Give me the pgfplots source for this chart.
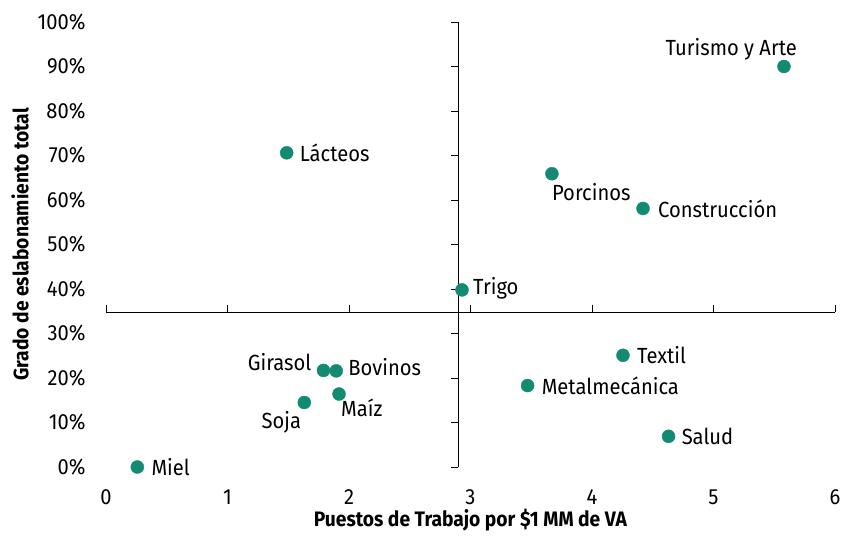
\documentclass[border=0pt]{standalone}
\usepackage{fontspec}
\setmainfont{Fira Sans}[FakeStretch=0.92]
\usepackage{pgfplots}
\usepackage{pgfplotstable}
\pgfplotsset{compat=1.18}
\definecolor{teal1}{HTML}{138A72}
\pgfplotstableread[col sep=comma]{
x,y,label,dx,dy
1.487,0.706,Lácteos,13,0
3.67,0.659,Porcinos,0,-18
4.42,0.581,Construcción,15,0
2.93,0.398,Trigo,11,2
4.255,0.251,Textil,14,0
3.47,0.183,Metalmecánica,14,0
4.63,0.069,Salud,13,0
1.895,0.216,Bovinos,12,4
1.918,0.164,Maíz,2,-14
0.258,0.000,Miel,14,0
}\westtable
\pgfplotstableread[col sep=comma]{
x,y,label,dx,dy
5.58,0.900,Turismo y Arte,13,17
1.79,0.217,Girasol,-12,8
1.632,0.145,Soja,-3,-20
}\easttable
\begin{document}
\fontsize{22}{26}\selectfont
\begin{tikzpicture}
\begin{axis}[
  scale only axis, width=729bp, height=445bp,
  xmin=0, xmax=6, ymin=0, ymax=1,
  clip=false,
  axis line style={draw=none},
  major tick length=0,
  xtick={0,1,2,3,4,5,6},
  ytick={0,0.1,0.2,0.3,0.4,0.5,0.6,0.7,0.8,0.9,1},
  yticklabels={0\%,10\%,20\%,30\%,40\%,50\%,60\%,70\%,80\%,90\%,100\%},
  /pgf/number format/assume math mode=true,
  ticklabel style={font=\fontsize{22}{26}\selectfont},
  xticklabel style={yshift=-15bp},
  yticklabel style={xshift=-13bp},
  xlabel={\textbf{Puestos de Trabajo por \$1 MM de VA}},
  ylabel={\textbf{Grado de eslabonamiento total}},
  label style={font=\fontsize{21}{25}\selectfont},
  xlabel style={at={(axis description cs:0.5,0)}, anchor=center, yshift=-53bp},
  ylabel style={at={(axis description cs:0,0.5)}, anchor=center, yshift=86bp},
  mylab/.style={only marks, mark=*, mark size=6.5bp, mark options={fill=teal1, draw=teal1},
    point meta=explicit symbolic,
    visualization depends on={\thisrow{dx}\as\mydx},
    visualization depends on={\thisrow{dy}\as\mydy},
    nodes near coords,
    every node near coord/.append style={anchor=#1, xshift=\mydx bp, yshift=\mydy bp, inner sep=0pt, font=\fontsize{22}{26}\selectfont, text=black}},
]
\draw[black, line width=0.9bp] (axis cs:0,0.348) -- (axis cs:6,0.348);
\draw[black, line width=0.9bp] (axis cs:2.9,0) -- (axis cs:2.9,1);
\pgfplotsinvokeforeach{0,1,2,3,4,5,6}{
  \draw[black, line width=0.9bp] (axis cs:#1,0.348) -- ++(0,7bp);
}
\pgfplotsinvokeforeach{0,0.1,0.2,0.3,0.4,0.5,0.6,0.7,0.8,0.9,1}{
  \draw[black, line width=0.9bp] (axis cs:2.9,#1) -- ++(-7bp,0);
}
\addplot[mylab=west] table[x=x, y=y, meta=label] {\westtable};
\addplot[mylab=east] table[x=x, y=y, meta=label] {\easttable};
\end{axis}
\pgfresetboundingbox
\path ([xshift=-106bp,yshift=-81bp]current axis.south west) rectangle ([xshift=8bp,yshift=22bp]current axis.north east);
\end{tikzpicture}
\end{document}
